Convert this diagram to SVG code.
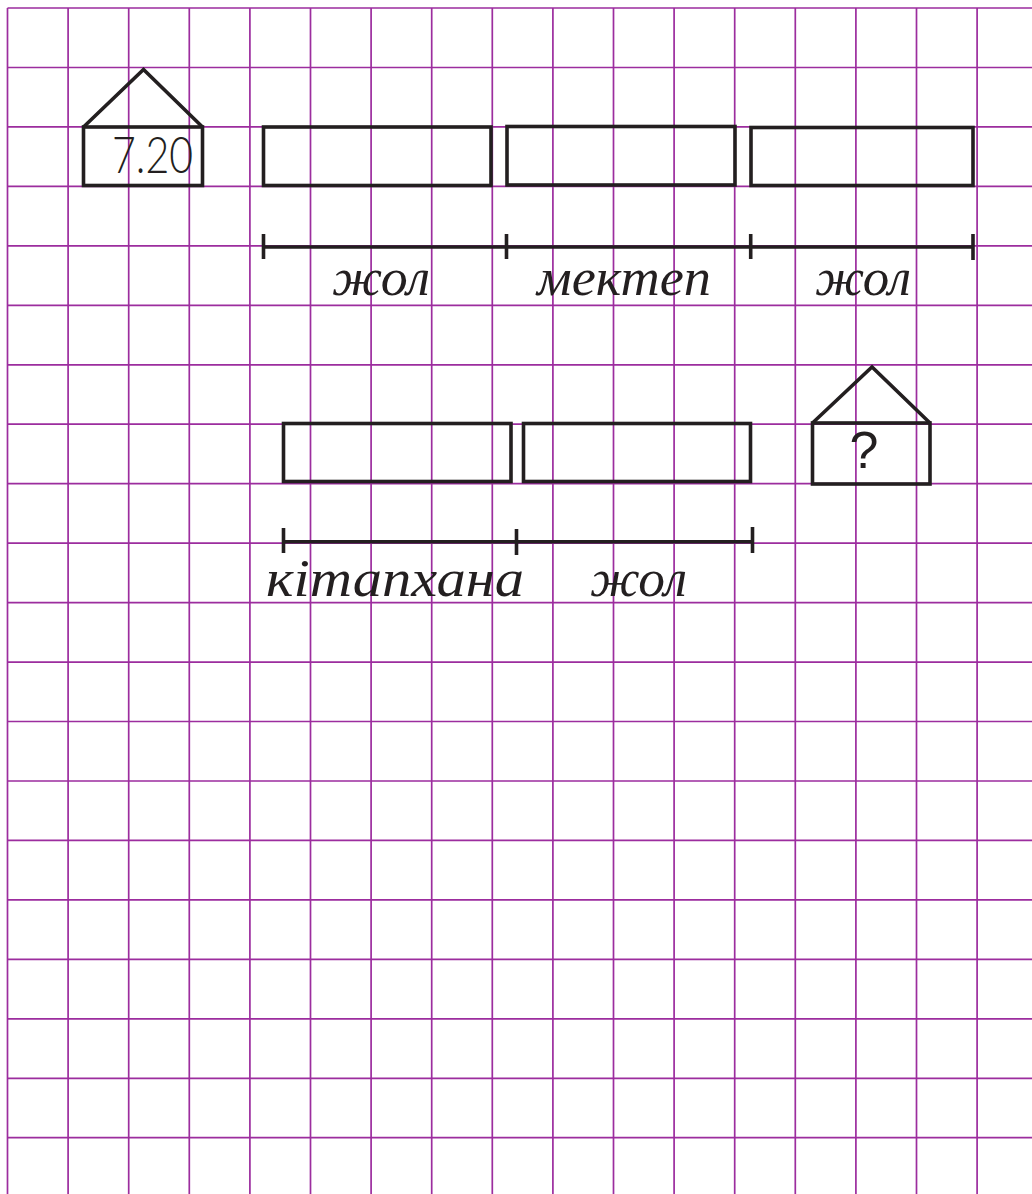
<svg xmlns="http://www.w3.org/2000/svg" width="1032" height="1194" viewBox="0 0 1032 1194">
<style>
.g{stroke:#9c2d9e;stroke-width:1.7;fill:none}
.b{stroke:#231f20;stroke-width:3.6;fill:none}
.w{font-family:"Liberation Serif",serif;font-style:italic;fill:#231f20}
.n{font-family:Lato,"Liberation Sans",sans-serif;font-weight:300;fill:#231f20}
.q{font-family:"Liberation Sans",Arial,sans-serif;font-weight:400;fill:#231f20}
</style>
<rect width="1032" height="1194" fill="#fff"/>
<g id="grid" class="g">
<path d="M7.5 8V1194M68.1 8V1194M128.7 8V1194M189.3 8V1194M249.9 8V1194M310.5 8V1194M371.1 8V1194M431.7 8V1194M492.3 8V1194M552.9 8V1194M613.5 8V1194M674.1 8V1194M734.7 8V1194M795.3 8V1194M855.9 8V1194M916.5 8V1194M977.1 8V1194"/>
<path d="M7.5 8H1032M7.5 67.5H1032M7.5 126.9H1032M7.5 186.4H1032M7.5 245.8H1032M7.5 305.3H1032M7.5 364.8H1032M7.5 424.2H1032M7.5 483.7H1032M7.5 543.1H1032M7.5 602.6H1032M7.5 662.1H1032M7.5 721.5H1032M7.5 781H1032M7.5 840.4H1032M7.5 899.9H1032M7.5 959.4H1032M7.5 1018.8H1032M7.5 1078.3H1032M7.5 1137.7H1032"/>
</g>
<g id="house-start">
<path class="b" d="M83.5 127L143.5 69.5L202.5 127"/>
<rect class="b" x="83.5" y="127" width="119" height="58.5"/>
<text class="n" x="152.5" y="172.5" font-size="52" text-anchor="middle" textLength="81" lengthAdjust="spacingAndGlyphs">7.20</text>
</g>
<g id="box-road1"><rect class="b" x="263.5" y="127" width="227.5" height="58.5"/></g>
<g id="box-school"><rect class="b" x="507" y="126.5" width="228" height="58.5"/></g>
<g id="box-road2"><rect class="b" x="751" y="127.5" width="222" height="58"/></g>
<g id="box-library"><rect class="b" x="283.5" y="423.5" width="227.5" height="58"/></g>
<g id="box-road3"><rect class="b" x="523.5" y="423.5" width="227" height="58"/></g>
<g id="house-end">
<path class="b" d="M812.5 423L872 367L930 423"/>
<rect class="b" x="812.5" y="423" width="117.5" height="61"/>
<text class="q" x="864" y="468" font-size="52" text-anchor="middle">?</text>
</g>
<g id="connectors" class="b">
<path d="M263.5 247H973M263.5 234V259M506.5 234V259M750.7 234V259M973 234V260"/>
<path d="M283.5 541.7H752.5M283.5 528V553M516.5 529V555M752.5 527V553"/>
</g>
<g id="labels" class="w">
<text x="381" y="295" font-size="52" text-anchor="middle" textLength="98" lengthAdjust="spacingAndGlyphs">жол</text>
<text x="624" y="295" font-size="52" text-anchor="middle" textLength="174" lengthAdjust="spacingAndGlyphs">мектеп</text>
<text x="863" y="295" font-size="52" text-anchor="middle" textLength="96" lengthAdjust="spacingAndGlyphs">жол</text>
<text x="395" y="596" font-size="52" text-anchor="middle" textLength="258" lengthAdjust="spacingAndGlyphs">кітапхана</text>
<text x="638.5" y="596" font-size="52" text-anchor="middle" textLength="97" lengthAdjust="spacingAndGlyphs">жол</text>
</g>
</svg>
